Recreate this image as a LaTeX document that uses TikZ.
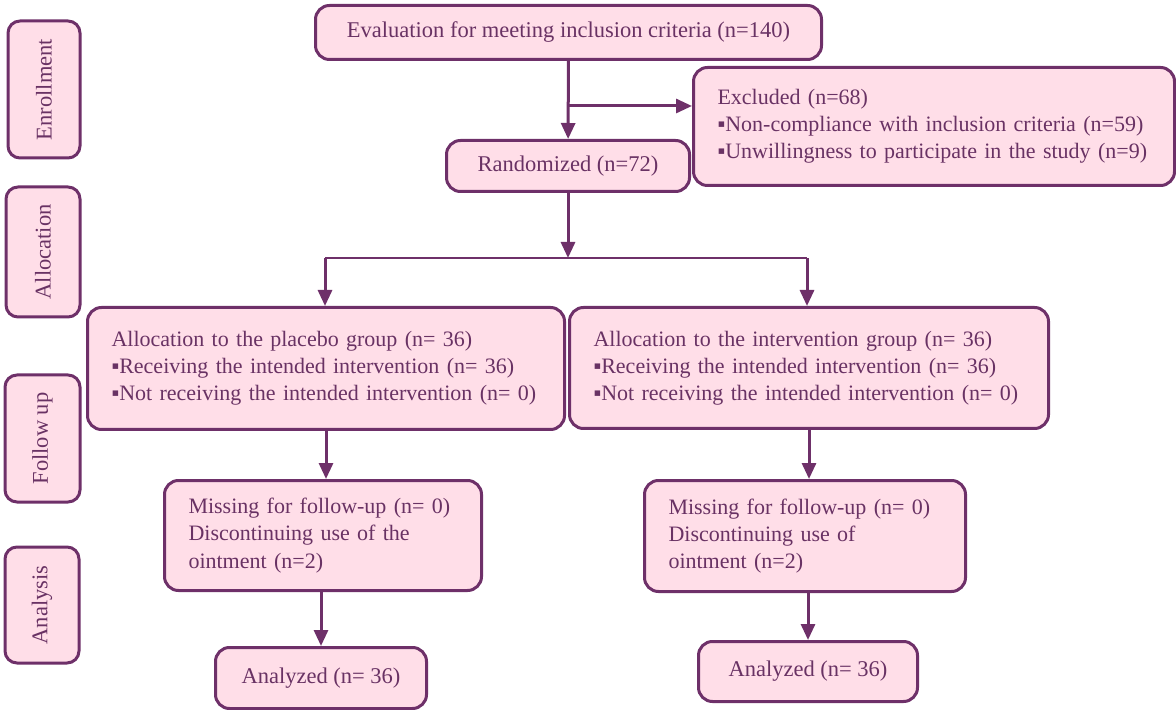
\documentclass[tikz,border=0pt]{standalone}
\usepackage{fontspec}
\setmainfont{Liberation Serif}
\usetikzlibrary{arrows.meta}
\definecolor{boxfill}{RGB}{255,222,232}
\definecolor{boxline}{RGB}{110,48,105}
\definecolor{boxtext}{RGB}{105,50,100}

\begin{document}
\begin{tikzpicture}[x=0.5pt, y=-0.5pt,
  font=\fontsize{11.25}{13.6}\selectfont, text=boxtext,
  frame/.style={draw=boxline, fill=boxfill, line width=1.5pt, rounded corners=7pt, inner sep=0pt},
  box/.style={frame, anchor=north west, align=center},
  lbox/.style={frame, anchor=north west, align=left, inner xsep=12pt, text width=#1,
               font=\fontsize{11}{13.6}\selectfont},
  side/.style={frame, rounded corners=6pt, rotate=90},
  ar/.style={-{Triangle[length=8pt, width=7pt]}, draw=boxline, line width=1.5pt}]

\useasboundingbox (0,0) rectangle (1176,710);

% --- stage labels on the left
\node[side, minimum width=68.5pt, minimum height=36pt] (enr) at (44,89.5) {Enrollment};
\node[side, minimum width=65pt, minimum height=37pt] (alc) at (43,252) {Allocation};
\node[side, minimum width=63.5pt, minimum height=37.5pt] (fup) at (42.5,438.5) {Follow up};
\node[side, minimum width=58pt, minimum height=37pt] (anl) at (42,605) {Analysis};

% --- enrollment
\node[box, minimum width=253pt, minimum height=27pt] (eval) at (314,4)
  {Evaluation for meeting inclusion criteria (n=140)};
\node[lbox=216.5pt, minimum height=59pt] (excl) at (692,66)
  {Excluded (n=68)\\▪Non-compliance with inclusion criteria (n=59)\\▪Unwillingness to participate in the study (n=9)};
\node[box, minimum width=121.5pt, minimum height=25.5pt] (rand) at (445,139) {Randomized (n=72)};

% --- allocation
\node[lbox=214.5pt, minimum height=61pt] (plac) at (86,306)
  {Allocation to the placebo group (n= 36)\\▪Receiving the intended intervention (n= 36)\\▪Not receiving the intended intervention (n= 0)};
\node[lbox=215.5pt, minimum height=60.5pt] (intv) at (568,306)
  {Allocation to the intervention group (n= 36)\\▪Receiving the intended intervention (n= 36)\\▪Not receiving the intended intervention (n= 0)};

% --- follow up, analysis
\node[lbox=134.5pt, minimum height=55pt] (lost1) at (163,479)
  {Missing for follow-up (n= 0)\\Discontinuing use of the\\ointment (n=2)};
\node[lbox=136.5pt, minimum height=55.5pt] (lost2) at (643,479)
  {Missing for follow-up (n= 0)\\Discontinuing use of\\ointment (n=2)};
\node[box, minimum width=105.5pt, minimum height=30.5pt] (ana1) at (214,646) {Analyzed (n= 36)};
\node[box, minimum width=109.5pt, minimum height=30pt] (ana2) at (697,640) {Analyzed (n= 36)};

\coordinate (br) at (568,106);
\coordinate (split) at (568,258);
\coordinate (sl) at (325,258);
\coordinate (sr) at (807,258);

\draw[ar] (eval) -- (rand);
\draw[ar] (br) -- (br -| excl.west);
\draw[ar] (rand) -- (split);
\draw[draw=boxline, line width=1pt] (sl) -- (sr);
\draw[ar] (sl) -- (sl |- plac.north);
\draw[ar] (sr) -- (sr |- intv.north);
\draw[ar] (plac) -- (plac.south |- lost1.north);
\draw[ar] (intv) -- (intv.south |- lost2.north);
\draw[ar] (ana1.north |- lost1.south) -- (ana1);
\draw[ar] (ana2.north |- lost2.south) -- (ana2);
\end{tikzpicture}
\end{document}
